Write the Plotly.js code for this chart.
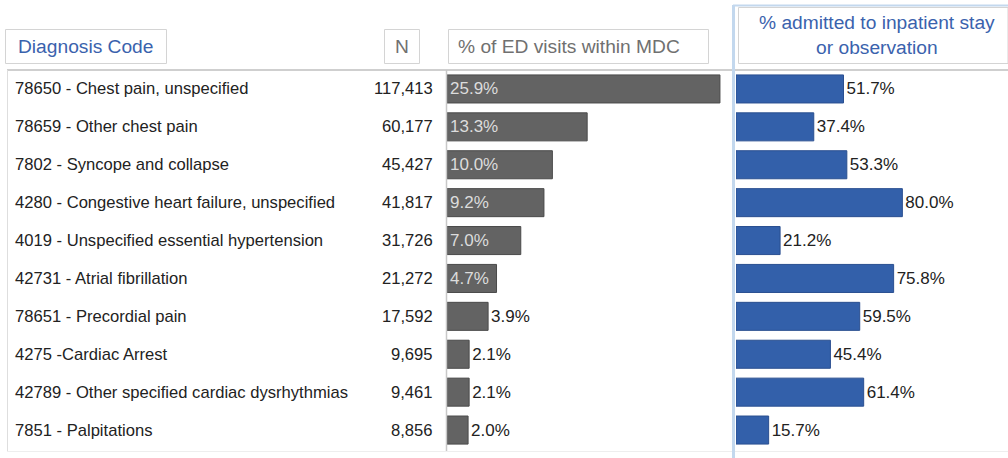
<!DOCTYPE html>
<html>
<head>
<meta charset="utf-8">
<script src="https://cdn.plot.ly/plotly-3.0.1.min.js"></script>
<style>html,body{margin:0;padding:0;background:#fff;}#chart{width:1008px;height:458px;}</style>
</head>
<body>
<div id="chart"></div>
<script>
// ---- data ----
const diagnoses = [
  "78650 - Chest pain, unspecified",
  "78659 - Other chest pain",
  "7802 - Syncope and collapse",
  "4280 - Congestive heart failure, unspecified",
  "4019 - Unspecified essential hypertension",
  "42731 - Atrial fibrillation",
  "78651 - Precordial pain",
  "4275 -Cardiac Arrest",
  "42789 - Other specified cardiac dysrhythmias",
  "7851 - Palpitations"
];
const nVisits = [117413, 60177, 45427, 41817, 31726, 21272, 17592, 9695, 9461, 8856];
const pctED = [25.9, 13.3, 10.0, 9.2, 7.0, 4.7, 3.9, 2.1, 2.1, 2.0];
const pctAdmitted = [51.7, 37.4, 53.3, 80.0, 21.2, 75.8, 59.5, 45.4, 61.4, 15.7];
const headers = ["Diagnosis Code", "N", "% of ED visits within MDC", "% admitted to inpatient stay<br>or observation"];

// ---- helpers (pixel -> paper) ----
const W = 1008, H = 458;
const px = x => x / W;
const py = y => 1 - y / H;
const fmtN = v => v.toLocaleString('en-US');

const idx = diagnoses.map((_, i) => i);
const edPos = pctED.map(v => v >= 4.5 ? 'inside' : 'outside');

const font = 'Liberation Sans, Arial, sans-serif';
const barTextSize = 17;
const labelSize = 16.6;
const headerSize = 19.2;

const traces = [
  {
    type: 'bar', orientation: 'h', x: pctED, y: idx, xaxis: 'x', yaxis: 'y',
    width: 0.74,
    marker: {color: '#636363', line: {color: '#4a4a4a', width: 1}},
    text: pctED.map(v => v.toFixed(1) + '%'),
    textposition: edPos, insidetextanchor: 'start', constraintext: 'none',
    cliponaxis: false,
    insidetextfont: {color: '#dcdcdc', size: barTextSize, family: font},
    outsidetextfont: {color: '#222222', size: barTextSize, family: font},
    hoverinfo: 'skip'
  },
  {
    type: 'bar', orientation: 'h', x: pctAdmitted, y: idx, xaxis: 'x2', yaxis: 'y',
    width: 0.74,
    marker: {color: '#3360aa', line: {color: '#2a4f90', width: 1}},
    text: pctAdmitted.map(v => v.toFixed(1) + '%'),
    textposition: 'outside', constraintext: 'none', cliponaxis: false,
    outsidetextfont: {color: '#222222', size: barTextSize, family: font},
    hoverinfo: 'skip'
  }
];

const annotations = [];
diagnoses.forEach((d, i) => {
  annotations.push({xref: 'paper', yref: 'y', x: px(13), y: i, text: d, showarrow: false,
    xanchor: 'left', yanchor: 'middle', font: {family: font, size: labelSize, color: '#222'}});
  annotations.push({xref: 'paper', yref: 'y', x: px(435), y: i, text: fmtN(nVisits[i]), showarrow: false,
    xanchor: 'right', yanchor: 'middle', font: {family: font, size: labelSize, color: '#222'}});
});
// header texts
annotations.push({xref: 'paper', yref: 'paper', x: px(85.5), y: py(46.5), text: headers[0], showarrow: false,
  xanchor: 'center', yanchor: 'middle', font: {family: font, size: headerSize, color: '#3a62ad'}});
annotations.push({xref: 'paper', yref: 'paper', x: px(401.5), y: py(46.5), text: headers[1], showarrow: false,
  xanchor: 'center', yanchor: 'middle', font: {family: font, size: headerSize, color: '#707070'}});
annotations.push({xref: 'paper', yref: 'paper', x: px(456), y: py(46.5), text: headers[2], showarrow: false,
  xanchor: 'left', yanchor: 'middle', font: {family: font, size: headerSize, color: '#707070'}});
annotations.push({xref: 'paper', yref: 'paper', x: px(877), y: py(35), text: headers[3], showarrow: false,
  xanchor: 'center', yanchor: 'middle', font: {family: font, size: headerSize, color: '#3a62ad'}});

const rect = (x0, y0, x1, y1, color) => ({type: 'rect', xref: 'paper', yref: 'paper',
  x0: px(x0), x1: px(x1), y0: py(y0), y1: py(y1), line: {color: color, width: 1}, fillcolor: 'rgba(0,0,0,0)'});
const line = (x0, y0, x1, y1, color, w) => ({type: 'line', xref: 'paper', yref: 'paper',
  x0: px(x0), x1: px(x1), y0: py(y0), y1: py(y1), line: {color: color, width: w}});

const shapes = [
  rect(5.5, 29.5, 166.5, 63.5, '#d4d4d4'),
  rect(384.5, 29.5, 419.5, 63.5, '#d4d4d4'),
  rect(448.5, 29.5, 708.5, 63.5, '#d4d4d4'),
  rect(738.5, 7.5, 1008, 63.5, '#d4d4d4'),
  line(7, 70, 1008, 70, '#cfcfcf', 2),
  line(7.5, 70, 7.5, 451, '#dedede', 1),
  line(7, 451.5, 1008, 451.5, '#eeeeee', 1),
  line(446.5, 70, 446.5, 451, '#c8c8c8', 1.5),
  line(733.5, 5, 733.5, 458, '#c3d8ee', 3),
  line(733, 5.5, 1008, 5.5, '#c3d8ee', 2)
];

const layout = {
  width: W, height: H,
  margin: {l: 0, r: 0, t: 0, b: 0, pad: 0},
  paper_bgcolor: '#ffffff', plot_bgcolor: 'rgba(0,0,0,0)',
  showlegend: false, barmode: 'overlay',
  font: {family: font},
  xaxis: {domain: [px(447), px(731)], range: [0, 26.95], visible: false, fixedrange: true},
  xaxis2: {domain: [px(736), 1], range: [0, 130.8], visible: false, fixedrange: true},
  yaxis: {domain: [py(449), py(70)], range: [9.5, -0.5], visible: false, fixedrange: true},
  annotations: annotations,
  shapes: shapes
};

Plotly.newPlot('chart', traces, layout, {displayModeBar: false, staticPlot: true});
</script>
</body>
</html>
